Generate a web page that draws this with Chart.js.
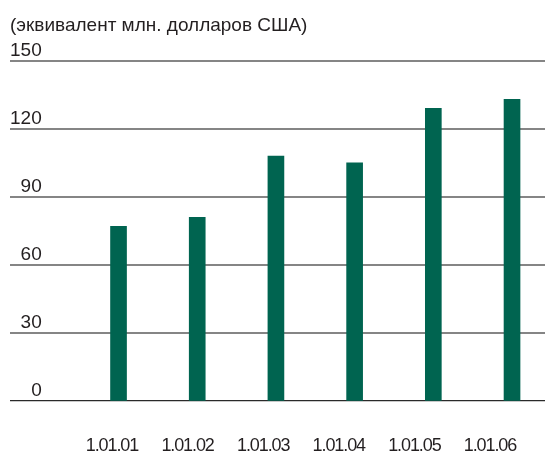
<!DOCTYPE html>
<html>
<head>
<meta charset="utf-8">
<script src="https://cdn.jsdelivr.net/npm/chart.js@4/dist/chart.umd.min.js"></script>
<style>
html,body{margin:0;padding:0;background:#fff;}
#wrap{width:545px;height:453px;position:relative;}
</style>
</head>
<body>
<div id="wrap"><canvas id="c" width="545" height="453"></canvas></div>
<script>
const categories = ['1.01.01', '1.01.02', '1.01.03', '1.01.04', '1.01.05', '1.01.06'];
const values = [77, 81, 108, 105, 129, 133];
const yTicks = [0, 30, 60, 90, 120, 150];
const titleText = '(эквивалент млн. долларов США)';

const FONT = '"Liberation Sans", Arial, Helvetica, sans-serif';
const TEXT = '#231f20';

const condensedLabels = {
  id: 'condensedLabels',
  afterDatasetsDraw(chart) { chart.ctx.letterSpacing = '-1.1px'; },
  afterDraw(chart) { chart.ctx.letterSpacing = '0px'; }
};

new Chart(document.getElementById('c'), {
  type: 'bar',
  data: {
    datasets: [{
      data: categories.map((c, i) => ({x: i, y: values[i]})),
      backgroundColor: '#006450',
      borderWidth: 0,
      barThickness: 16,
      xAxisID: 'x'
    }]
  },
  plugins: [condensedLabels],
  options: {
    responsive: false,
    animation: false,
    devicePixelRatio: 1,
    layout: {padding: {left: 10, right: 0, top: 0, bottom: 0}},
    plugins: {
      legend: {display: false},
      tooltip: {enabled: false},
      title: {
        display: true,
        text: titleText,
        align: 'start',
        color: TEXT,
        font: {family: FONT, size: 19, weight: 'normal'},
        padding: {top: 14, bottom: 24}
      }
    },
    scales: {
      x: {
        type: 'linear',
        display: false,
        offset: false,
        min: -1.379,
        max: 5.419
      },
      xl: {
        type: 'linear',
        position: 'bottom',
        offset: false,
        min: -1.349,
        max: 5.728,
        grid: {display: false, drawTicks: false},
        border: {display: false},
        afterBuildTicks: (scale) => {
          scale.ticks = categories.map((c, i) => ({value: i}));
        },
        afterFit: (scale) => {
          scale.height = 52;
          scale.paddingLeft = 0;
          scale.paddingRight = 0;
        },
        ticks: {
          autoSkip: false,
          maxRotation: 0,
          padding: 34,
          z: 1,
          color: TEXT,
          font: {family: FONT, size: 18},
          callback: (v) => categories[v]
        }
      },
      y: {
        min: 0,
        max: 150,
        afterBuildTicks: (scale) => {
          scale.ticks = yTicks.map(v => ({value: v}));
        },
        grid: {
          color: (ctx) => ctx.tick && ctx.tick.value === 0 ? '#2a2a2a' : '#858585',
          lineWidth: (ctx) => ctx.tick && ctx.tick.value === 0 ? 1.2 : 2,
          drawTicks: false
        },
        border: {display: false},
        ticks: {
          mirror: true,
          crossAlign: 'far',
          padding: 0,
          labelOffset: -10,
          color: TEXT,
          font: {family: FONT, size: 19}
        }
      }
    }
  }
});
</script>
</body>
</html>
